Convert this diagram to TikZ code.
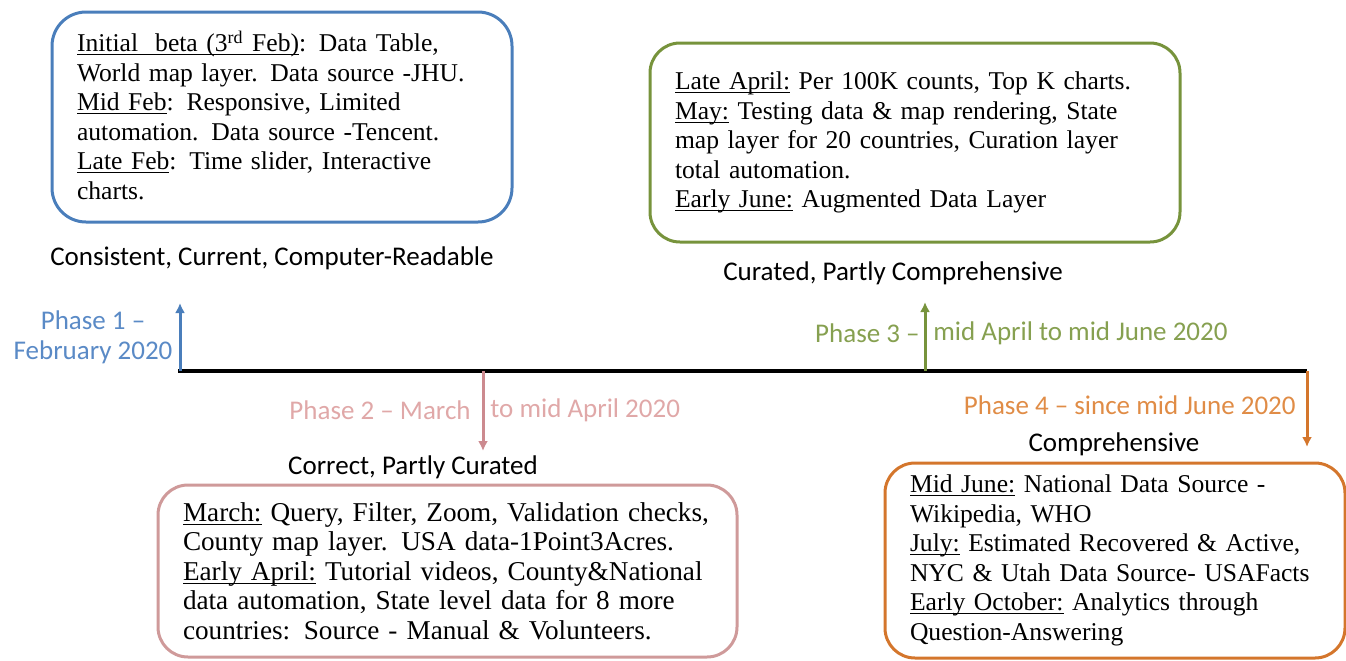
\documentclass[tikz,border=0pt]{standalone}
\usepackage{fontspec}
\setmainfont{Liberation Serif}
\newfontfamily\calibri{Carlito}
\usetikzlibrary{arrows.meta}
\definecolor{blueline}{HTML}{4A7EBB}
\definecolor{bluetext}{HTML}{5A8AC6}
\definecolor{roseline}{HTML}{CF9A9A}
\definecolor{rosearrow}{HTML}{CC8A8F}
\definecolor{rosetext}{HTML}{E0A8A8}
\definecolor{greenline}{HTML}{77933C}
\definecolor{greentext}{HTML}{86A050}
\definecolor{orangeline}{HTML}{D4762C}
\definecolor{orangetext}{HTML}{E08C46}
\newcommand{\when}[1]{\underline{\smash{#1}}}
\tikzset{phasebox/.style={draw,rounded corners=15pt,line width=1.5pt,
                          inner xsep=12.5pt,align=left,
                          font=\fontsize{12.8}{14.75}\selectfont}}
\tikzset{quality/.style={font=\calibri\fontsize{13.5}{15}\selectfont}}

\begin{document}
\begin{tikzpicture}[x=0.5pt,y=-0.5pt]
    \tikzstyle{phase}=[font=\calibri\fontsize{13.5}{15}\selectfont,inner sep=0pt]
    \tikzstyle{tick}=[line width=1.5pt,-{Latex[length=5pt,width=5pt]}]

    \useasboundingbox (0,0) rectangle (1346,660);

    % Draw the time line
    \coordinate (start) at (178,371);
    \coordinate (t1) at (180,371);
    \coordinate (t2) at (483,371);
    \coordinate (t3) at (925,371);
    \coordinate (t4) at (1307,371);
    \draw[line width=2pt] (start) -- (t4);

    % Phase arrows and their names
    \coordinate (a1) at (180,303);
    \coordinate (a2) at (483,451);
    \coordinate (a3) at (925,302);
    \coordinate (a4) at (1307,447);
    \draw[tick,blueline] (t1) -- (a1);
    \draw[tick,rosearrow] (t2) -- (a2);
    \draw[tick,greenline] (t3) -- (a3);
    \draw[tick,orangeline] (t4) -- (a4);

    \node[phase,bluetext,align=center] (p1) at (93,337) {Phase 1 –\\February 2020};
    \node[phase,rosetext,anchor=east] (p2a) at (471,410) {Phase 2 – March};
    \node[phase,rosetext,anchor=west] (p2b) at (490,410) {to mid April 2020};
    \node[phase,greentext,anchor=east] (p3a) at (920,333) {Phase 3 –};
    \node[phase,greentext,anchor=west] (p3b) at (933,333) {mid April to mid June 2020};
    \node[phase,orangetext,anchor=east] (p4) at (1296,405) {Phase 4 – since mid June 2020};

    % What the data is after each phase
    \node[quality] (q1) at (272,258) {Consistent, Current, Computer-Readable};
    \node[quality] (q2) at (413,467) {Correct, Partly Curated};
    \node[quality] (q3) at (893,273) {Curated, Partly Comprehensive};
    \node[quality] (q4) at (1114,444) {Comprehensive};

    % The boxes with the features of each phase
    \node[phasebox,draw=blueline,rounded corners=17pt,minimum width=230pt,
          minimum height=105pt,text width=205pt] (b1) at (282,117)
        {\when{Initial\ \ beta (3\textsuperscript{rd} Feb)}: Data Table,\\
         World map layer. Data source -JHU.\\
         \when{Mid Feb}: Responsive, Limited\\
         automation. Data source -Tencent.\\
         \when{Late Feb}: Time slider, Interactive\\
         charts.};
    \node[phasebox,draw=roseline,minimum width=289.5pt,
          minimum height=86pt,text width=264.5pt,
          font=\fontsize{13.6}{14.75}\selectfont] (b2) at (447.5,571)
        {\when{March:} Query, Filter, Zoom, Validation checks,\\
         County map layer. USA data-1Point3Acres.\\
         \when{Early April:} Tutorial videos, County\&National\\
         data automation, State level data for 8 more\\
         countries: Source - Manual \& Volunteers.};
    \node[phasebox,draw=greenline,minimum width=265pt,
          minimum height=99.5pt,text width=240pt] (b3) at (915,142.5)
        {\when{Late April:} Per 100K counts, Top K charts.\\
         \when{May:} Testing data \& map rendering, State\\
         map layer for 20 countries, Curation layer\\
         total automation.\\
         \when{Early June:} Augmented Data Layer};
    \node[phasebox,draw=orangeline,minimum width=230pt,
          minimum height=97.5pt,text width=205pt] (b4) at (1115,560.5)
        {\when{Mid June:} National Data Source -\\
         Wikipedia, WHO\\
         \when{July:} Estimated Recovered \& Active,\\
         NYC \& Utah Data Source- USAFacts\\
         \when{Early October:} Analytics through\\
         Question-Answering};
\end{tikzpicture}
\end{document}
